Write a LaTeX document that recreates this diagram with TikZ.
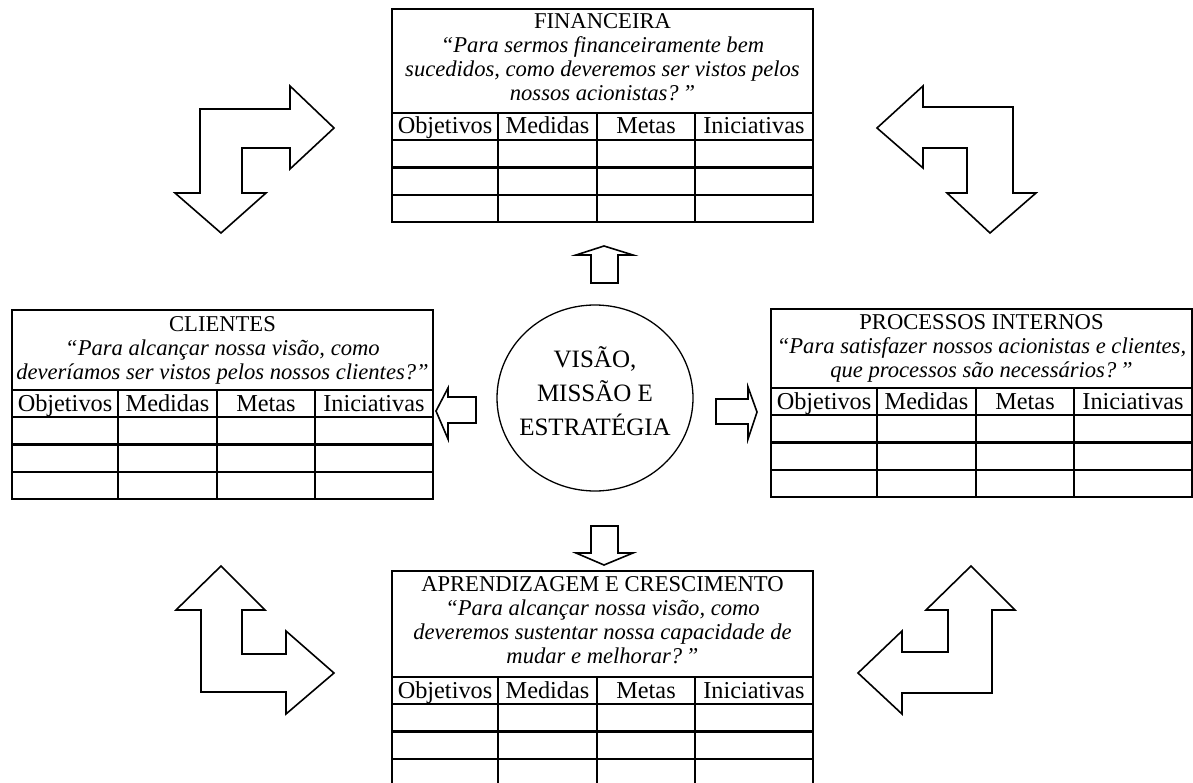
\documentclass[tikz,border=0pt]{standalone}
\usepackage{fontspec}
\setmainfont{Liberation Serif}
\usetikzlibrary{shapes.geometric}

% Balanced-scorecard grid: #1 prefix, #2 left x, #3 header-row top y, #4 frame top y
\newcommand\bscgrid[4]{%
  \draw[gridline] (#2,#4) rectangle ({#2+421},{#3+109});
  \foreach \k in {0,1,2,3}
    \draw[gridline] (#2,{#3+27.25*\k}) -- ({#2+421},{#3+27.25*\k});
  \foreach \c in {106,205,303}
    \draw[gridline] ({#2+\c},#3) -- ({#2+\c},{#3+109});
  \node[headcell] (#1-obj) at ({#2+53},{#3+21}) {Objetivos};
  \node[headcell] (#1-med) at ({#2+155.5},{#3+21}) {Medidas};
  \node[headcell] (#1-met) at ({#2+254},{#3+21}) {Metas};
  \node[headcell] (#1-ini) at ({#2+362},{#3+21}) {Iniciativas};
}

\begin{document}
\begin{tikzpicture}[x=1pt,y=-1pt,
  gridline/.style={line width=2.4pt, line cap=rect},
  blockarrow/.style={draw, line width=1.6pt, line join=miter, fill=white},
  headcell/.style={font=\fontsize{24.3}{26}\selectfont, inner sep=0pt, anchor=base},
  titlebox/.style={align=center, font=\fontsize{22.6}{24}\selectfont, inner sep=0pt},
]
\useasboundingbox[fill=white] (0,0) rectangle (1193,783);

% the four perspectives
\bscgrid{fin}{392}{113}{9}
\bscgrid{cli}{12}{390}{310}
\bscgrid{pro}{771}{388}{309}
\bscgrid{apr}{392}{677}{571}

\node[titlebox] (fin-title) at (602.5,57) {FINANCEIRA\\
  \textit{“Para sermos financeiramente bem}\\
  \textit{sucedidos, como deveremos ser vistos pelos}\\
  \textit{nossos acionistas?\,”}};
\node[titlebox] (cli-title) at (222.5,350) {CLIENTES\\
  \textit{“Para alcançar nossa visão, como}\\
  \textit{deveríamos ser vistos pelos nossos clientes?”}};
\node[titlebox] (pro-title) at (981.5,348.5) {PROCESSOS INTERNOS\\
  \textit{“Para satisfazer nossos acionistas e clientes,}\\
  \textit{que processos são necessários?\,”}};
\node[titlebox] (apr-title) at (602.5,620) {APRENDIZAGEM E CRESCIMENTO\\
  \textit{“Para alcançar nossa visão, como}\\
  \textit{deveremos sustentar nossa capacidade de}\\
  \textit{mudar e melhorar?\,”}};

% vision, mission and strategy at the centre
\node[draw, ellipse, line width=1.3pt, minimum width=196pt, minimum height=186pt,
      inner sep=0pt] (core) at (595,398) {};
\node[align=center, inner sep=0pt, font=\fontsize{25}{34}\selectfont]
      (core-text) at (595,391) {VISÃO,\\MISSÃO E\\ESTRATÉGIA};

% small block arrows out of the centre
\draw[blockarrow] (591,283) -- (591,255) -- (576,255) -- (604,246) -- (633,255)
  -- (618,255) -- (618,283) -- cycle;
\draw[blockarrow] (591,526) -- (618,526) -- (618,553) -- (633,553) -- (604,565)
  -- (576,553) -- (591,553) -- cycle;
\draw[blockarrow] (476,397) -- (448,397) -- (448,388) -- (436,411) -- (448,439)
  -- (448,423) -- (476,423) -- cycle;
\draw[blockarrow] (716,399) -- (748,399) -- (748,387) -- (757,412) -- (748,439)
  -- (748,424) -- (716,424) -- cycle;

% bent double arrows in the corners
\draw[blockarrow] (200,109) -- (290,109) -- (290,86) -- (334,128) -- (290,169)
  -- (290,148) -- (242,148) -- (242,193) -- (266,193) -- (221,233) -- (175,193)
  -- (200,193) -- cycle;
\draw[blockarrow] (1013,107) -- (923,107) -- (923,86) -- (877,128) -- (923,168)
  -- (923,148) -- (967,148) -- (967,193) -- (947,193) -- (990,233) -- (1036,193)
  -- (1013,193) -- cycle;
\draw[blockarrow] (201,692) -- (286,692) -- (286,714) -- (334,673) -- (286,631)
  -- (286,654) -- (242,654) -- (242,610) -- (265,610) -- (221,566) -- (176,610)
  -- (201,610) -- cycle;
\draw[blockarrow] (992,693) -- (902,693) -- (902,714) -- (858,673) -- (902,631)
  -- (902,652) -- (948,652) -- (948,610) -- (926,610) -- (971,566) -- (1015,610)
  -- (992,610) -- cycle;
\end{tikzpicture}
\end{document}
